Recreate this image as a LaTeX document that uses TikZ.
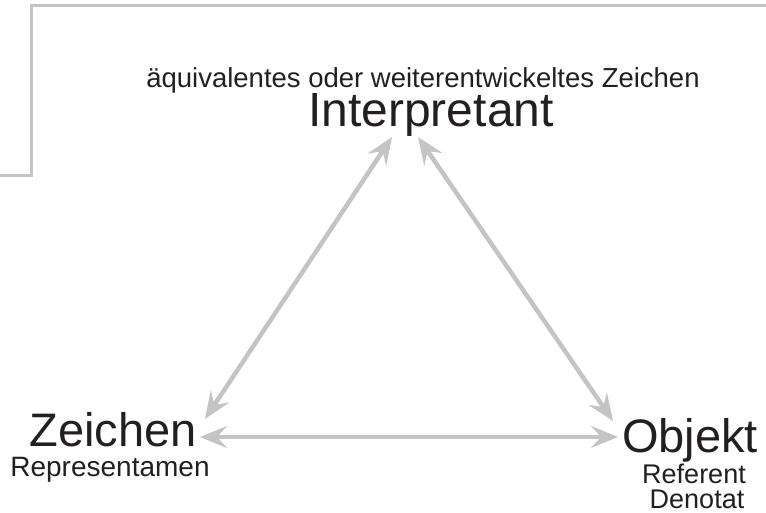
\documentclass[tikz,border=0pt]{standalone}
\usepackage{fontspec}
\setmainfont{Liberation Sans}
\usetikzlibrary{arrows.meta}
\definecolor{framegray}{HTML}{C3C3C8}
\definecolor{arrowgray}{HTML}{C4C4C6}
\definecolor{txt}{HTML}{231F20}
\tikzset{
  frameline/.style={draw=framegray, line width=3pt},
  relarrow/.style={draw=arrowgray, line width=4.5pt,
    {Stealth[length=27pt,width=22pt,inset=10pt]}-{Stealth[length=27pt,width=22pt,inset=10pt]}},
  lbl/.style={text=txt, inner sep=0pt, anchor=base},
}
\begin{document}
\begin{tikzpicture}[x=1pt,y=-1pt]
\useasboundingbox (0,0) rectangle (766,513);
\draw[frameline] (0,176) -- (31,176) -- (31,6) -- (766,6);
\node[lbl, font=\fontsize{27.5}{30}\selectfont] (sub) at (423,88) {äquivalentes oder weiterentwickeltes Zeichen};
\node[lbl, font=\fontsize{48}{52}\selectfont] (interp) at (431,127) {Interpretant};
\node[lbl, font=\fontsize{47}{50}\selectfont] (zeichen) at (113,446) {Zeichen};
\node[lbl, font=\fontsize{28}{30}\selectfont] (repr) at (110,476) {Representamen};
\node[lbl, font=\fontsize{47}{50}\selectfont] (objekt) at (690,452) {Objekt};
\node[lbl, font=\fontsize{27}{30}\selectfont] (ref) at (694,483) {Referent};
\node[lbl, font=\fontsize{27}{30}\selectfont] (den) at (697,508) {Denotat};
\coordinate (iL) at (392,137);
\coordinate (iR) at (418,137);
\coordinate (zT) at (205,419);
\coordinate (zR) at (200,437);
\coordinate (oT) at (613,421);
\coordinate (oL) at (618,437);
\draw[relarrow] (iL) -- (zT);
\draw[relarrow] (iR) -- (oT);
\draw[relarrow] (zR) -- (oL);
\end{tikzpicture}
\end{document}
